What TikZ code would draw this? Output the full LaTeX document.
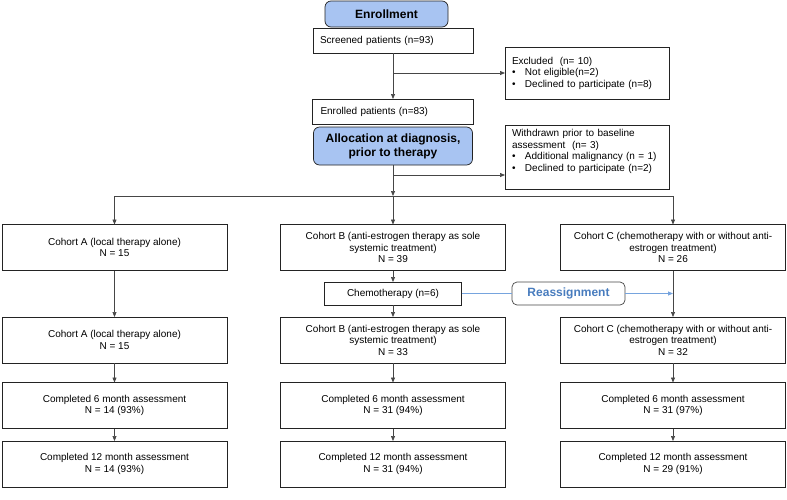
\documentclass[tikz,border=0pt]{standalone}
\usepackage{fontspec}
\setmainfont{Liberation Sans}
\usetikzlibrary{arrows.meta,positioning}
\definecolor{headblue}{RGB}{168,196,242}
\definecolor{reblue}{RGB}{72,124,190}
\definecolor{relink}{RGB}{118,164,222}
\definecolor{edge}{RGB}{35,35,35}
\definecolor{wire}{RGB}{70,70,70}

\begin{document}
\begin{tikzpicture}[x=1pt, y=-1pt,
    box/.style = {draw=edge, line width=0.7pt, fill=white, outer sep=0pt, align=center,
                  font=\fontsize{10}{11.5}\selectfont},
    cohort/.style = {box, minimum width=225pt, minimum height=46pt},
    leftbox/.style = {box, align=left, inner xsep=7pt, text width=#1},
    head/.style = {draw=edge, line width=0.7pt, fill=headblue, rounded corners=6pt, outer sep=0pt,
                   align=center, font=\fontsize{12}{14}\selectfont\bfseries},
    link/.style = {draw=wire, line width=0.7pt, -{Triangle[length=5pt,width=4pt]}},
    bul/.style = {}]
    \useasboundingbox (0,0) rectangle (787,499);

    % enrollment part
    \node[head, minimum width=123pt, minimum height=26pt] (enroll) at (386.5,14) {Enrollment};
    \node[leftbox=146pt, minimum height=25pt] (screened) at (393,40.5) {Screened patients (n=93)};
    \node[leftbox=145pt, inner xsep=8pt, minimum height=25pt] (enrolled) [below of=screened, node distance=71pt] {Enrolled patients (n=83)};
    \node[head, minimum width=159pt, minimum height=38pt] (alloc) [below of=enrolled, node distance=34.5pt] {Allocation at diagnosis,\\prior to therapy};

    \node[leftbox=150pt, minimum height=52pt] (excl) at (587,73)
        {Excluded\ \ (n= 10)\\
         \makebox[13pt][l]{\textbullet}Not eligible(n=2)\\
         \makebox[13pt][l]{\textbullet}Declined to participate (n=8)};
    \node[leftbox=150pt, inner ysep=4pt] (wd) [below of=excl, node distance=84.5pt]
        {Withdrawn prior to baseline\\
         assessment\ \ (n= 3)\\
         \makebox[13pt][l]{\textbullet}Additional malignancy (n = 1)\\
         \makebox[13pt][l]{\textbullet}Declined to participate (n=2)\rule[-14pt]{0pt}{14pt}};

    % cohorts at allocation
    \node[cohort] (a1) at (114.5,247.5) {Cohort A (local therapy alone)\\N = 15};
    \node[cohort] (b1) [right of=a1, node distance=278.5pt] {Cohort B (anti-estrogen therapy as sole\\systemic treatment)\\N = 39};
    \node[cohort] (c1) [right of=b1, node distance=280pt] {Cohort C (chemotherapy with or without anti-\\estrogen treatment)\\N = 26};

    \node[box, minimum width=137pt, minimum height=23pt] (chemo) [below of=b1, node distance=46pt] {Chemotherapy (n=6)};
    \node[box, draw=wire, rounded corners=5pt, minimum width=113pt, minimum height=23pt,
          text=reblue, font=\fontsize{12}{14}\selectfont\bfseries] (reassign) [right of=chemo, node distance=175.5pt] {Reassignment};

    % cohorts after reassignment
    \node[cohort] (a2) [below of=a1, node distance=92.5pt] {Cohort A (local therapy alone)\\N = 15};
    \node[cohort] (b2) [below of=b1, node distance=92.5pt] {Cohort B (anti-estrogen therapy as sole\\systemic treatment)\\N = 33};
    \node[cohort] (c2) [below of=c1, node distance=92.5pt] {Cohort C (chemotherapy with or without anti-\\estrogen treatment)\\N = 32};

    % follow up
    \node[cohort] (a3) [below of=a2, node distance=65.5pt] {Completed 6 month assessment\\N = 14 (93\%)};
    \node[cohort] (b3) [below of=b2, node distance=65.5pt] {Completed 6 month assessment\\N = 31 (94\%)};
    \node[cohort] (c3) [below of=c2, node distance=65.5pt] {Completed 6 month assessment\\N = 31 (97\%)};

    \node[cohort] (a4) [below of=a3, node distance=58.5pt] {Completed 12 month assessment\\N = 14 (93\%)};
    \node[cohort] (b4) [below of=b3, node distance=58.5pt] {Completed 12 month assessment\\N = 31 (94\%)};
    \node[cohort] (c4) [below of=c3, node distance=58.5pt] {Completed 12 month assessment\\N = 29 (91\%)};

    \coordinate (split) at (393,196);
    \coordinate (wdin) at (393,175);

    \draw[link] (screened) -- (enrolled);
    \draw[link] (screened.south |- excl.west) -- (excl.west);
    \draw[link] (alloc) -- (split);
    \draw[link] (wdin) -- (wdin -| wd.west);
    \draw[link] (split) -- (b1);
    \draw[link] (split) -| (a1);
    \draw[link] (split) -| (c1);

    \draw[link] (b1) -- (chemo);
    \draw[link] (chemo) -- (b2);
    \draw[link] (a1) -- (a2);
    \draw[link] (c1) -- (c2);
    \draw[draw=relink, line width=0.8pt] (chemo) -- (reassign);
    \draw[link, draw=relink, line width=0.8pt] (reassign) -- (reassign -| c1.south);

    \draw[link] (a2) -- (a3);
    \draw[link] (b2) -- (b3);
    \draw[link] (c2) -- (c3);
    \draw[link] (a3) -- (a4);
    \draw[link] (b3) -- (b4);
    \draw[link] (c3) -- (c4);
\end{tikzpicture}
\end{document}
